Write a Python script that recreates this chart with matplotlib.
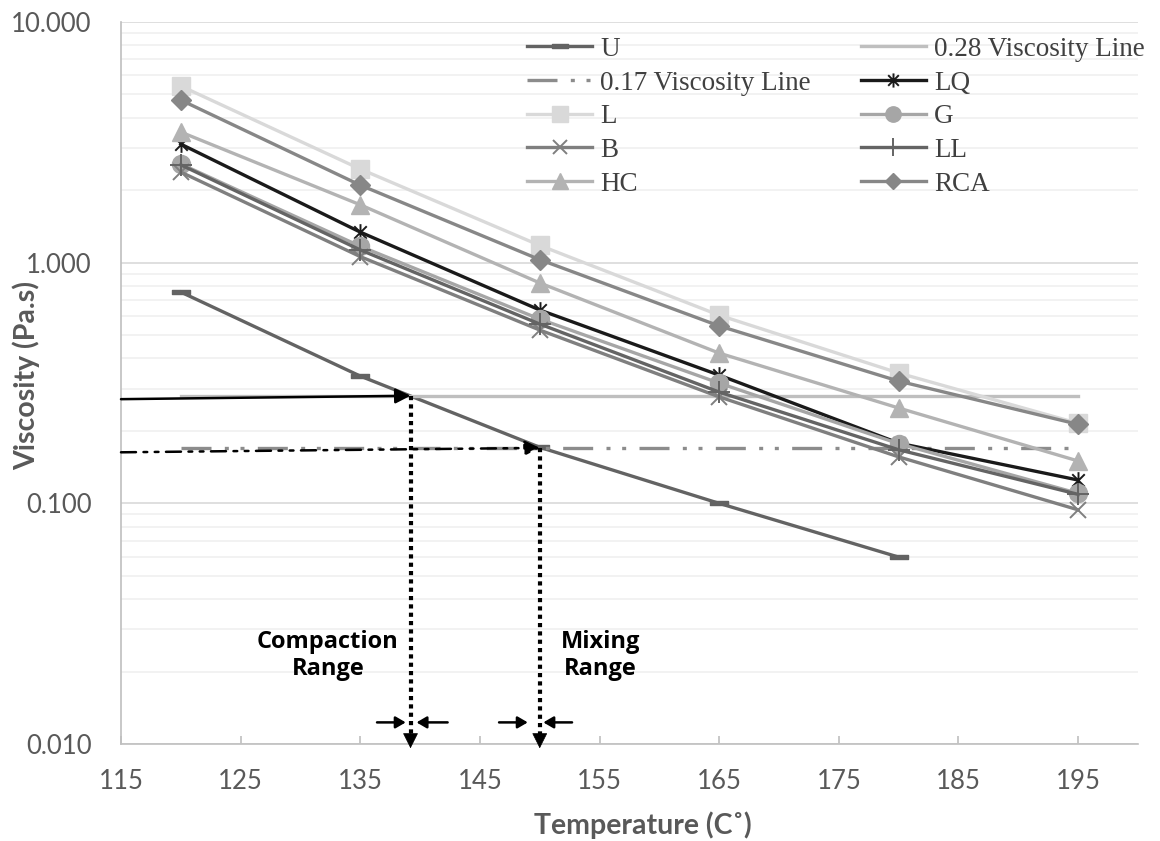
import numpy as np
import matplotlib
matplotlib.use("Agg")
import matplotlib.pyplot as plt
from matplotlib.path import Path
from matplotlib.ticker import FixedLocator, NullFormatter

# ---- data -------------------------------------------------------------
temps = [120, 135, 150, 165, 180, 195]
temps_u = [120, 135, 150, 165, 180]

visc_U = [0.755, 0.338, 0.171, 0.100, 0.0598]
visc_LQ = [3.11, 1.34, 0.636, 0.341, 0.178, 0.125]
visc_L = [5.42, 2.45, 1.18, 0.605, 0.348, 0.215]
visc_G = [2.57, 1.17, 0.583, 0.316, 0.177, 0.110]
visc_B = [2.38, 1.06, 0.525, 0.277, 0.156, 0.094]
visc_LL = [2.55, 1.13, 0.556, 0.290, 0.167, 0.109]
visc_HC = [3.49, 1.74, 0.824, 0.421, 0.249, 0.150]
visc_RCA = [4.74, 2.10, 1.03, 0.546, 0.322, 0.213]

line_028 = 0.28
line_017 = 0.17
compaction_temp = 139.2
mixing_temp = 150.0

x_ticks = [115, 125, 135, 145, 155, 165, 175, 185, 195]
y_ticks = [0.01, 0.1, 1, 10]
y_tick_labels = ["0.010", "0.100", "1.000", "10.000"]

# ---- figure -------------------------------------------------------------
fig = plt.figure(figsize=(11.6, 8.41), dpi=100)
ax = fig.add_axes([0.1043, 0.1153, 0.8767, 0.8585])
ax.set_yscale("log")
ax.set_xlim(115, 200)
ax.set_ylim(0.01, 10)

# grid
ax.yaxis.set_major_locator(FixedLocator(y_ticks))
minor = [m * 10.0 ** e for e in (-2, -1, 0) for m in range(2, 10)]
ax.yaxis.set_minor_locator(FixedLocator(minor))
ax.yaxis.set_minor_formatter(NullFormatter())
ax.grid(True, which="major", axis="y", color="#d9d9d9", lw=1.2, zorder=0)
ax.grid(True, which="minor", axis="y", color="#f0f0f0", lw=1.2, zorder=0)
ax.set_axisbelow(True)

for s in ("top", "right"):
    ax.spines[s].set_visible(False)
for s in ("left", "bottom"):
    ax.spines[s].set_color("#bfbfbf")
    ax.spines[s].set_linewidth(1.2)

tick_font = dict(family=["Lato", "DejaVu Sans"], size=18.5, color="#595959")
ax.set_xticks(x_ticks)
ax.set_xticklabels([str(t) for t in x_ticks], **tick_font)
ax.set_yticks(y_ticks)
ax.set_yticklabels(y_tick_labels, **tick_font)
ax.tick_params(axis="x", which="major", direction="in", length=6, width=1.2,
               color="#bfbfbf", pad=18)
ax.tick_params(axis="y", which="both", length=0, pad=21)

label_font = dict(family=["Lato", "DejaVu Sans"], size=20.5,
                  weight="bold", color="#595959")
ax.set_xlabel("Temperature (C\u02da)", va="center", **label_font)
ax.set_ylabel("Viscosity (Pa.s)", va="center", **label_font)
ax.xaxis.set_label_coords(0.513, -0.112)
ax.yaxis.set_label_coords(-0.0934, 0.51)

# ---- markers ------------------------------------------------------------
dash_marker = Path([(-2.0, -0.45), (2.0, -0.45), (2.0, 0.45), (-2.0, 0.45), (-2.0, -0.45)],
                   [Path.MOVETO, Path.LINETO, Path.LINETO, Path.LINETO, Path.CLOSEPOLY])
star_marker = Path([(0, -1), (0, 1), (-0.75, -0.75), (0.75, 0.75), (-0.75, 0.75), (0.75, -0.75)],
                   [Path.MOVETO, Path.LINETO, Path.MOVETO, Path.LINETO, Path.MOVETO, Path.LINETO])

lw = 2.4
h_U, = ax.plot(temps_u, visc_U, color="#636363", lw=lw, marker=dash_marker,
               ms=13, mec="#636363", mfc="#636363", label="U", zorder=3)
h_28, = ax.plot([temps[0], temps[-1]], [line_028, line_028], color="#bfbfbf",
                lw=lw, label="0.28 Viscosity Line", zorder=3)
h_17, = ax.plot([temps[0], temps[-1]], [line_017, line_017], color="#8c8c8c",
                lw=lw, dashes=(9, 4, 1.2, 3.5, 1.2, 4), label="0.17 Viscosity Line", zorder=3)
h_LQ, = ax.plot(temps, visc_LQ, color="#1a1a1a", lw=lw, marker=star_marker,
                ms=12, mec="#1a1a1a", mfc="none", mew=1.4, label="LQ", zorder=4)
h_L, = ax.plot(temps, visc_L, color="#d9d9d9", lw=lw, marker="s",
               ms=13, mec="#d9d9d9", mfc="#d9d9d9", label="L", zorder=4)
h_G, = ax.plot(temps, visc_G, color="#a6a6a6", lw=lw, marker="o",
               ms=13, mec="#a6a6a6", mfc="#a6a6a6", label="G", zorder=4)
h_B, = ax.plot(temps, visc_B, color="#7f7f7f", lw=lw, marker="x",
               ms=12, mec="#7f7f7f", mew=1.4, label="B", zorder=4)
h_LL, = ax.plot(temps, visc_LL, color="#646464", lw=lw, marker="+",
                ms=16, mec="#646464", mew=1.4, label="LL", zorder=4)
h_HC, = ax.plot(temps, visc_HC, color="#b3b3b3", lw=lw, marker="^",
                ms=13, mec="#b3b3b3", mfc="#b3b3b3", label="HC", zorder=4)
h_RCA, = ax.plot(temps, visc_RCA, color="#878787", lw=lw, marker="D",
                 ms=10, mec="#878787", mfc="#878787", label="RCA", zorder=4)

handles = [h_U, h_17, h_L, h_B, h_HC, h_28, h_LQ, h_G, h_LL, h_RCA]
leg = ax.legend(handles=handles, ncol=2, loc="upper left",
                bbox_to_anchor=(0.445, 0.969), bbox_transform=fig.transFigure,
                frameon=False, prop={"family": "Liberation Serif", "size": 19.5},
                handlelength=2.4, handletextpad=0.3, columnspacing=1.85,
                labelspacing=0.32, borderaxespad=0, markerscale=0.85)
for t in leg.get_texts():
    t.set_color("#404040")

# ---- annotations -------------------------------------------------------
head = dict(arrowstyle="-|>,head_length=0.9,head_width=0.45", color="black",
            shrinkA=0, shrinkB=0)
ax.annotate("", xy=(compaction_temp, line_028), xytext=(115, 0.271),
            arrowprops=dict(head, lw=1.8), zorder=6)
ax.annotate("", xy=(mixing_temp, line_017), xytext=(115, 0.163),
            arrowprops=dict(head, lw=1.8, linestyle=(0, (6, 3, 1.5, 3, 1.5, 3))), zorder=6)

for xv, yv in ((compaction_temp, line_028), (mixing_temp, line_017)):
    ax.plot([xv, xv], [yv, 0.0104], color="black", lw=3, ls=(0, (1, 1)),
            clip_on=False, zorder=6)
    ax.annotate("", xy=(xv, 0.0096), xytext=(xv, 0.0112),
                arrowprops=dict(arrowstyle="-|>,head_length=1.0,head_width=0.5",
                                color="black", lw=0.5, shrinkA=0, shrinkB=0),
                annotation_clip=False, zorder=7)

small = dict(arrowstyle="-|>,head_length=0.6,head_width=0.35", color="black",
             lw=1.8, shrinkA=0, shrinkB=0)
for x0, x1 in ((136.4, 138.8), (142.3, 139.7), (146.6, 149.0), (152.7, 150.3)):
    ax.annotate("", xy=(x1, 0.0123), xytext=(x0, 0.0123), arrowprops=small, zorder=7)

note_font = dict(family=["Open Sans", "DejaVu Sans"], size=17, weight="bold",
                 color="black", ha="center", va="center", linespacing=1.15)
ax.text(132.3, 0.0233, "Compaction\nRange", **note_font)
ax.text(155.05, 0.0233, "Mixing\nRange", **note_font)

fig.savefig("out.png", dpi=100)
